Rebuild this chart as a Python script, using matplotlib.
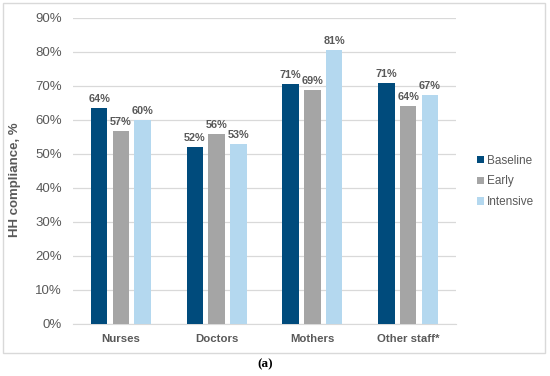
import matplotlib
matplotlib.use("Agg")
import matplotlib.pyplot as plt
import numpy as np
from matplotlib.patches import Rectangle

plt.rcParams['font.family'] = ['Liberation Sans', 'DejaVu Sans']

categories = ["Nurses", "Doctors", "Mothers", "Other staff*"]
series_names = ["Baseline", "Early", "Intensive"]
baseline = [63.5, 52.0, 70.6, 70.9]
early = [56.8, 55.9, 68.9, 64.2]
intensive = [60.0, 53.0, 80.6, 67.3]
labels_baseline = ["64%", "52%", "71%", "71%"]
labels_early = ["57%", "56%", "69%", "64%"]
labels_intensive = ["60%", "53%", "81%", "67%"]
yticks = [0, 10, 20, 30, 40, 50, 60, 70, 80, 90]

colors = ["#004b7c", "#a5a5a5", "#b4d8ef"]
gray = "#595959"

W, H = 550, 376
fig = plt.figure(figsize=(5.5, 3.76), dpi=100)
ax = fig.add_axes([73 / W, 1 - 324 / H, 383 / W, 306 / H])

x = np.arange(len(categories))
slot = 0.227
bw = 0.174
all_vals = [baseline, early, intensive]
all_labels = [labels_baseline, labels_early, labels_intensive]
for i, (vals, labs) in enumerate(zip(all_vals, all_labels)):
    pos = x + (i - 1) * slot
    bars = ax.bar(pos, vals, width=bw, color=colors[i], label=series_names[i], zorder=3)
    for b, lab in zip(bars, labs):
        ax.annotate(lab, (b.get_x() + b.get_width() / 2, b.get_height()),
                    xytext=(0, 3), textcoords="offset points", ha="center", va="bottom",
                    fontsize=7.8, fontweight="bold", color=gray)

ax.set_xlim(-0.5, len(categories) - 0.5)
ax.set_ylim(0, 90)
ax.set_yticks(yticks)
ax.set_yticklabels([f"{t}%" for t in yticks], fontsize=9.5, color=gray)
ax.set_xticks(x)
ax.set_xticklabels(categories, fontsize=8.2, fontweight="bold", color=gray)
ax.tick_params(axis="y", length=0, pad=8)
ax.tick_params(axis="x", length=0, pad=7)
ax.grid(axis="y", color="#d9d9d9", linewidth=0.9, zorder=0)
for s in ["top", "right", "left"]:
    ax.spines[s].set_visible(False)
ax.spines["bottom"].set_color("#d9d9d9")
ax.set_ylabel("HH compliance, %", fontsize=9.5, fontweight="bold", color=gray, labelpad=7)
ax.yaxis.set_label_coords(-0.137, 0.47)

leg = fig.legend(loc="upper left", bbox_to_anchor=(466 / W, 1 - 144 / H), frameon=False,
                 fontsize=8.5, handlelength=0.6, handleheight=0.6, handletextpad=0.3,
                 labelspacing=0.75, labelcolor=gray)

fig.patches.append(Rectangle((3 / W, 23 / H), 542 / W, 350 / H, transform=fig.transFigure,
                             fill=False, edgecolor="#d9d9d9", linewidth=1.0))

fig.text(265 / W, 1 - 364 / H, "(a)", ha="center", va="center", fontsize=9.5,
         family=["Liberation Serif", "DejaVu Serif"], fontweight="bold")

fig.savefig("out.png", dpi=100)
